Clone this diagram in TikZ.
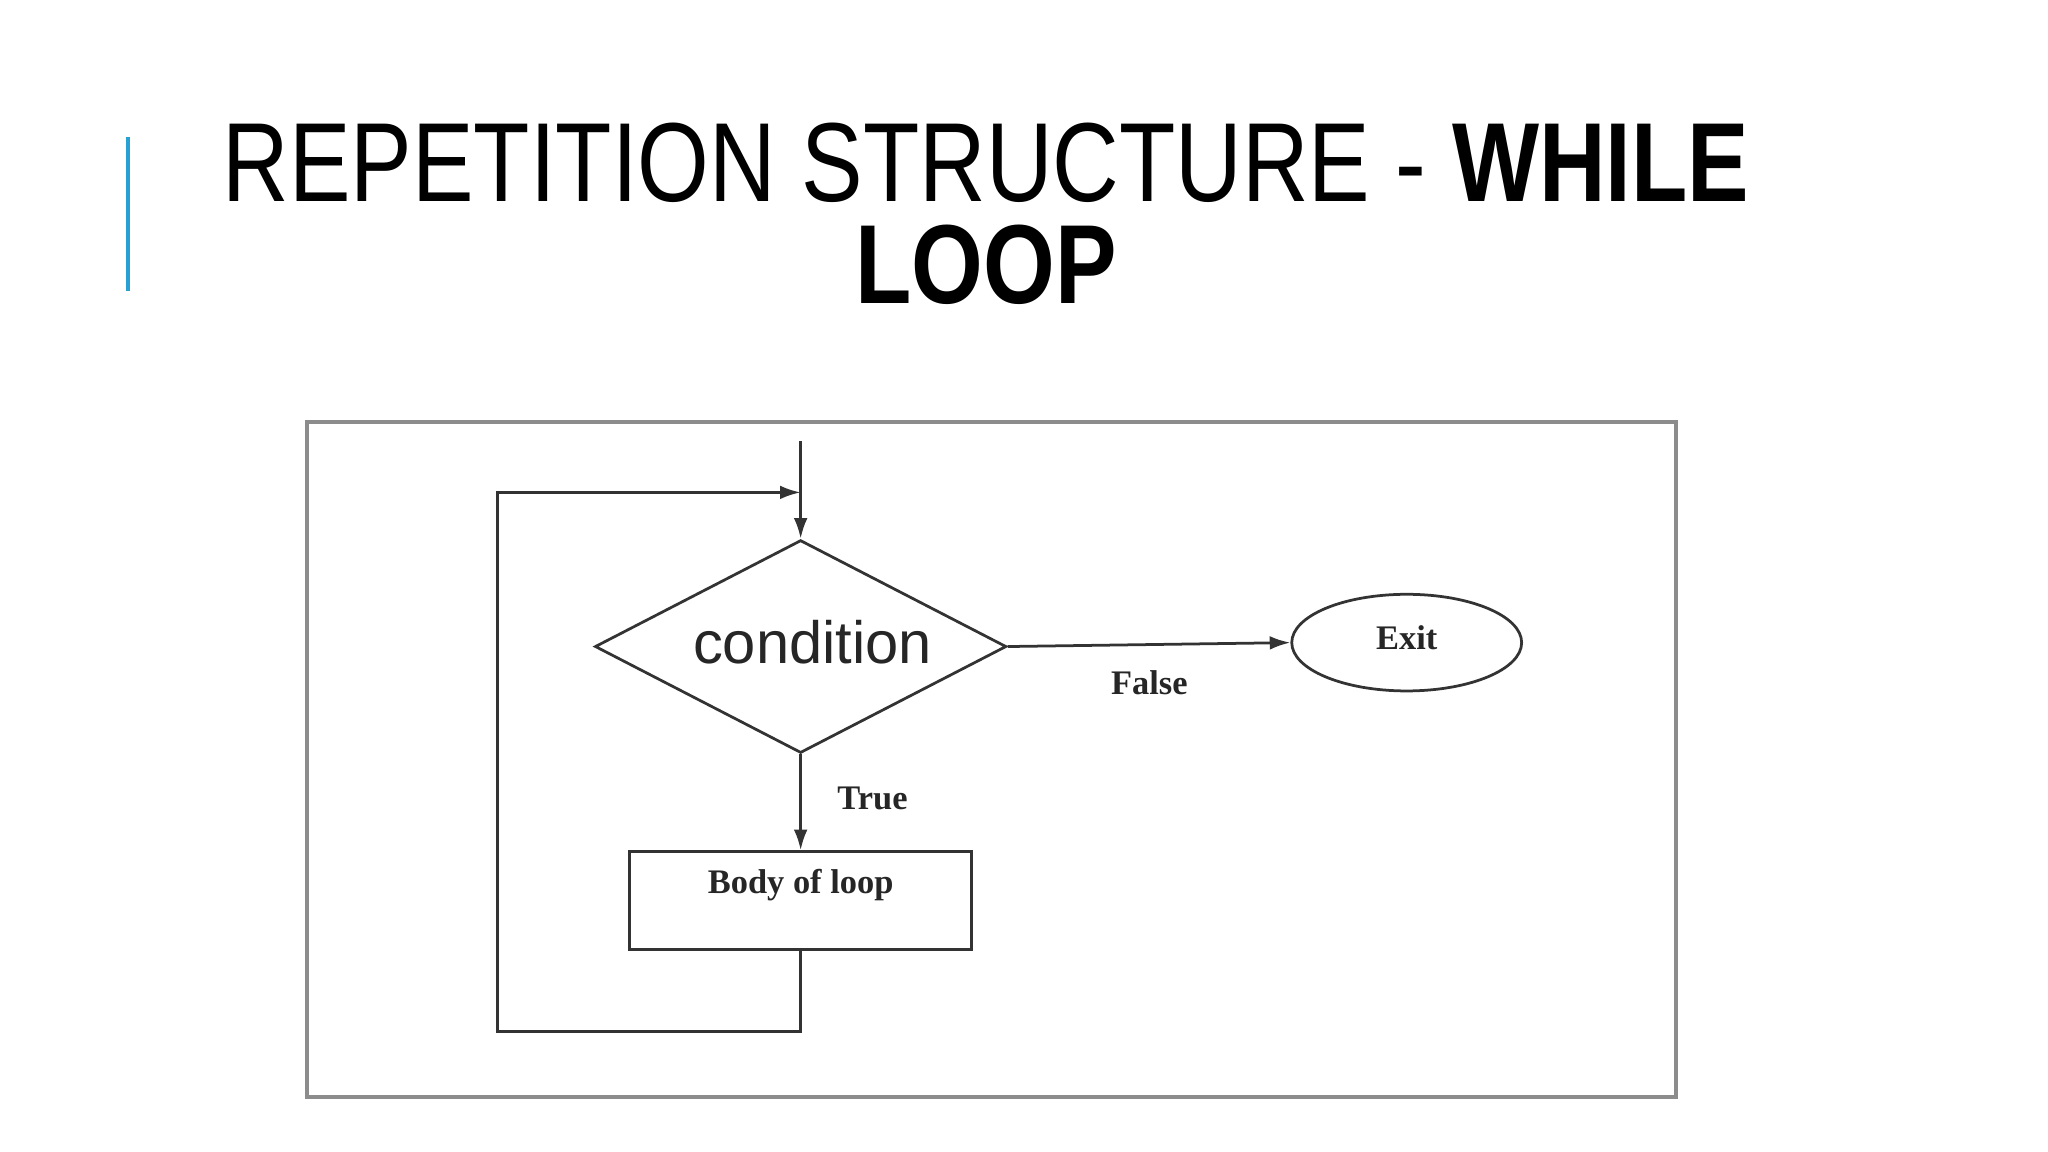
\documentclass[tikz,border=0pt]{standalone}
\usepackage{fontspec}
\setmainfont{Liberation Serif}
\newfontfamily\ttl{Liberation Sans}
\usetikzlibrary{shapes.geometric,arrows.meta}
\tikzset{
  conn/.style={draw=black!80, line width=1.2pt},
  arr/.style={conn,-{Latex[length=9pt,width=6pt]}},
  lbl/.style={font=\bfseries\fontsize{15}{15}\selectfont, text=black!85},
}
\begin{document}
\begin{tikzpicture}[x=0.02cm,y=-0.02cm]
\useasboundingbox (0,0) rectangle (1568,882);
\fill[white] (0,0) rectangle (1568,882);
\draw[draw={rgb,255:red,40;green,160;blue,210}, line width=1.5pt] (98,105) -- (98,223);
\node[font=\ttl\fontsize{49}{49}\selectfont, xscale=0.82, inner sep=0] (t1) at (755,125) {REPETITION STRUCTURE - \textbf{WHILE}};
\node[font=\ttl\bfseries\fontsize{49}{49}\selectfont, xscale=0.82, inner sep=0] (t2) at (755,203) {LOOP};
\draw[draw=black!45, line width=1.5pt] (235,323) rectangle (1283,840);
\node[diamond, draw=black!80, line width=1.2pt, minimum width=315*0.02cm, minimum height=163*0.02cm, aspect=1.93, inner sep=0] (c) at (613,495) {};
\node[font=\ttl\fontsize{26}{26}\selectfont, text=black!85] at (622,492) {condition};
\node[ellipse, draw=black!80, line width=1.2pt, minimum width=176*0.02cm, minimum height=74*0.02cm, inner sep=0] (e) at (1077,492) {};
\node[lbl] at (1077,488) {Exit};
\node[draw=black!80, line width=1.2pt, minimum width=262*0.02cm, minimum height=75*0.02cm, inner sep=0] (b) at (613,689.5) {};
\node[lbl] at (613,678) {Body of loop};
\coordinate (top) at (613,338);
\coordinate (d1) at (613,790);
\coordinate (d2) at (381,790);
\coordinate (d3) at (381,377);
\coordinate (d4) at (613,377);
\draw[arr] (top) -- (c.north);
\draw[arr] (c.east) -- (e.west);
\node[lbl] at (880,523) {False};
\draw[arr] (c.south) -- (b.north);
\node[lbl] at (668,611) {True};
\draw[arr] (b.south) -- (d1) -- (d2) -- (d3) -- (d4);
\end{tikzpicture}
\end{document}
